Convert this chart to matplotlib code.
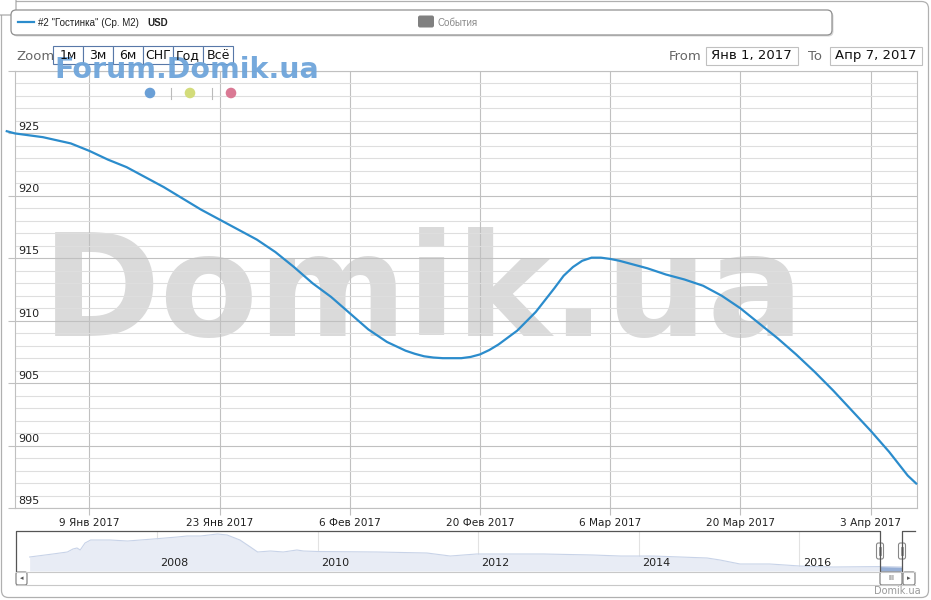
"""
    Domik.ua price chart: "Гостинка" USD per m2, Jan-Apr 2017.
"""
import numpy as np
import matplotlib
matplotlib.use('Agg')
import matplotlib.pyplot as plt
import matplotlib.transforms as mtransforms
from matplotlib.patches import FancyBboxPatch, Rectangle, Circle

W, H = 931, 600

# main series (USD per m2)
dates = ['2016-12-31', '2017-01-01', '2017-01-04', '2017-01-07', '2017-01-09',
         '2017-01-11', '2017-01-13', '2017-01-15', '2017-01-17', '2017-01-19',
         '2017-01-21', '2017-01-23', '2017-01-25', '2017-01-27', '2017-01-29',
         '2017-01-31', '2017-02-02', '2017-02-04', '2017-02-06', '2017-02-08',
         '2017-02-10', '2017-02-12', '2017-02-13', '2017-02-14', '2017-02-15',
         '2017-02-16', '2017-02-17', '2017-02-18', '2017-02-19', '2017-02-20',
         '2017-02-21', '2017-02-22', '2017-02-24', '2017-02-26', '2017-02-28',
         '2017-03-01', '2017-03-02', '2017-03-03', '2017-03-04', '2017-03-05',
         '2017-03-06', '2017-03-07', '2017-03-08', '2017-03-10', '2017-03-12',
         '2017-03-14', '2017-03-16', '2017-03-18', '2017-03-20', '2017-03-22',
         '2017-03-24', '2017-03-26', '2017-03-28', '2017-03-30', '2017-04-01',
         '2017-04-03', '2017-04-05', '2017-04-07', '2017-04-08']
prices = [925.2, 925.0, 924.7, 924.2, 923.6,
          922.9, 922.3, 921.5, 920.7, 919.8,
          918.9, 918.1, 917.3, 916.5, 915.5,
          914.3, 913.0, 911.9, 910.6, 909.3,
          908.3, 907.6, 907.35, 907.15, 907.05,
          907.0, 907.0, 907.0, 907.1, 907.3,
          907.65, 908.1, 909.2, 910.7, 912.6,
          913.6, 914.3, 914.8, 915.05, 915.05,
          914.95, 914.8, 914.6, 914.2, 913.7,
          913.3, 912.8, 912.0, 911.0, 909.8,
          908.6, 907.3, 905.9, 904.4, 902.8,
          901.2, 899.5, 897.6, 896.9]

tick_dates = ['2017-01-09', '2017-01-23', '2017-02-06', '2017-02-20',
              '2017-03-06', '2017-03-20', '2017-04-03']
tick_labels = ['9 Янв 2017', '23 Янв 2017', '6 Фев 2017', '20 Фев 2017',
               '6 Мар 2017', '20 Мар 2017', '3 Апр 2017']

# navigator history (decimal year, USD per m2)
nav_years = [2006.41, 2006.70, 2006.88, 2006.95, 2007.00, 2007.04, 2007.10,
             2007.17, 2007.41, 2007.63, 2007.95, 2008.25, 2008.37, 2008.54,
             2008.75, 2008.87, 2009.03, 2009.16, 2009.25, 2009.41, 2009.57,
             2009.74, 2009.82, 2010.00, 2010.74, 2011.36, 2011.65, 2011.98,
             2012.81, 2013.43, 2013.77, 2014.18, 2014.85, 2015.01, 2015.26,
             2015.63, 2016.01, 2016.42, 2017.00, 2017.28]
nav_values = [1355, 1492, 1583, 1719, 1765, 1674, 1992,
              2129, 2129, 2083, 2174, 2265, 2311, 2311,
              2402, 2356, 2129, 1810, 1583, 1628, 1583,
              1674, 1628, 1605, 1583, 1537, 1400, 1492,
              1492, 1446, 1400, 1400, 1310, 1219, 1037,
              1037, 945, 900, 920, 900]
nav_ticks = [2008, 2010, 2012, 2014, 2016]

zoom_buttons = ['1м', '3м', '6м', 'СНГ', 'Год', 'Всё']

LINE = '#2b8ccc'
GRID = '#c0c0c0'
MINOR = '#dedede'


def px_rect(x0, y0, x1, y1):
    return [x0 / W, 1 - y1 / H, (x1 - x0) / W, (y1 - y0) / H]


fig = plt.figure(figsize=(W / 100, H / 100), dpi=100)

# background layer in pixel coordinates
bg = fig.add_axes([0, 0, 1, 1], zorder=0)
bg.set_xlim(0, W)
bg.set_ylim(H, 0)
bg.axis('off')

bg.add_patch(FancyBboxPatch((1.5, 1.5), W - 4, H - 4, boxstyle='round,pad=0,rounding_size=7',
                            fc='white', ec='#b0b0b0', lw=0.9))
bg.add_patch(FancyBboxPatch((-6, -6), 22, 21, boxstyle='round,pad=0,rounding_size=4',
                            fc='white', ec='#a0a0a0', lw=0.8))

# legend box with shadow
bg.add_patch(FancyBboxPatch((12.5, 11.5), 821, 25, boxstyle='round,pad=0,rounding_size=5',
                            fc='#d8d8d8', ec='none'))
bg.add_patch(FancyBboxPatch((11, 10), 821, 25, boxstyle='round,pad=0,rounding_size=5',
                            fc='white', ec='#909090', lw=0.9))
bg.plot([18, 34], [22, 22], color=LINE, lw=1.6)
bg.text(38, 22.5, '#2 "Гостинка" (Ср. М2)', fontsize=7, family='Liberation Sans',
        va='center', ha='left', color='#222')
bg.text(147, 22.5, 'USD', fontsize=7, family='Liberation Sans', weight='bold',
        va='center', ha='left', color='#222')
bg.add_patch(FancyBboxPatch((418, 15.5), 16, 12, boxstyle='round,pad=0,rounding_size=2',
                            fc='#808080', ec='none'))
bg.text(438, 22.5, 'События', fontsize=7, family='Liberation Sans',
        va='center', ha='left', color='#888')

# range selector
bg.text(16, 56, 'Zoom', fontsize=9.5, color='#666', va='center', ha='left')
bx = 53
for lab in zoom_buttons:
    bg.add_patch(Rectangle((bx, 46), 30, 18, fc='white', ec='#5878a8', lw=0.8))
    bx += 30

bg.text(669, 56, 'From', fontsize=9.5, color='#666', va='center', ha='left')
bg.add_patch(Rectangle((705.5, 46.5), 92, 18, fc='white', ec='#c0c0c0', lw=0.8))
bg.text(751.5, 56, 'Янв 1, 2017', fontsize=9.5, color='#111', ha='center', va='center')
bg.text(808, 56, 'To', fontsize=9.5, color='#666', va='center', ha='left')
bg.add_patch(Rectangle((829.5, 46.5), 92, 18, fc='white', ec='#c0c0c0', lw=0.8))
bg.text(875.5, 56, 'Апр 7, 2017', fontsize=9.5, color='#111', ha='center', va='center')

# main plot
ax = fig.add_axes(px_rect(15, 71, 917, 508), zorder=1)
x = np.array(dates, dtype='datetime64[D]')
ax.plot(x, prices, color=LINE, lw=1.6, zorder=3, clip_on=False, solid_capstyle='butt')
ax.set_xlim(np.datetime64('2017-01-01'), np.datetime64('2017-04-08'))
ax.set_ylim(895, 930)

ax.set_xticks(np.array(tick_dates, dtype='datetime64[D]'))
ax.set_xticklabels(tick_labels, fontsize=7.6, color='#222')
ax.set_yticks(np.arange(895, 931, 5))
ax.set_yticks(np.arange(895, 931, 1), minor=True)
ax.set_yticklabels([])
ax.tick_params(axis='x', length=5, width=0.8, color=GRID, pad=2)
ax.tick_params(axis='y', which='major', length=5, width=0.8, color=GRID)
ax.tick_params(axis='y', which='minor', length=0)
ax.set_axisbelow(True)
ax.grid(axis='x', color=GRID, lw=0.8)
ax.grid(axis='y', which='major', color=GRID, lw=0.8)
ax.grid(axis='y', which='minor', color=MINOR, lw=0.8)
for sp in ax.spines.values():
    sp.set_color(GRID)
    sp.set_linewidth(0.8)

trans = mtransforms.blended_transform_factory(ax.transAxes, ax.transData)
for v in range(895, 930, 5):
    ax.text(0.004, v + 0.15, str(v), transform=trans, fontsize=8, color='#222',
            ha='left', va='bottom')

ax.text(0.03, 911.9, 'Domik.ua', transform=trans, fontsize=103, weight='bold',
        color='#dadada', ha='left', va='center', zorder=0.2)

# navigator
nav = fig.add_axes(px_rect(16, 531, 915, 571), zorder=1)
nav.set_xlim(2006.24, 2017.44)
nav.set_ylim(718, 2538)
nav.fill_between(nav_years, nav_values, 718, color='#e8ecf5', lw=0)
nav.plot(nav_years, nav_values, color='#c8d3e8', lw=0.8)
sel = [i for i, yv in enumerate(nav_years) if yv >= 2017.0]
nav.fill_between([nav_years[i] for i in sel], [nav_values[i] for i in sel], 718,
                 color='#97afd6', lw=0)
for yr in nav_ticks:
    nav.axvline(yr, color='#e2e2e2', lw=0.8, zorder=0)
    nav.text(yr + 0.04, 860, str(yr), fontsize=8, color='#222', ha='left', va='bottom')
nav.set_xticks([])
nav.set_yticks([])
for sp in nav.spines.values():
    sp.set_visible(False)

# navigator outline, handles, scrollbar, watermark, buttons text
top = fig.add_axes([0, 0, 1, 1], zorder=2)
top.set_xlim(0, W)
top.set_ylim(H, 0)
top.axis('off')
top.plot([16, 16, 880, 880], [571, 531, 531, 571], color='#555', lw=0.9)
top.plot([902, 902, 915], [571, 531, 531], color='#555', lw=0.9)
for hx in (880, 902):
    top.add_patch(FancyBboxPatch((hx - 3.5, 543), 7, 16, boxstyle='round,pad=0,rounding_size=2',
                                 fc='white', ec='#888', lw=0.8))
    top.plot([hx - 1, hx - 1], [547, 555], color='#888', lw=0.6)
    top.plot([hx + 1, hx + 1], [547, 555], color='#888', lw=0.6)

top.plot([16, 915], [571.5, 571.5], color='#c8c8c8', lw=0.8)
top.plot([16, 915], [585, 585], color='#c8c8c8', lw=0.8)
top.add_patch(FancyBboxPatch((16, 572), 11, 13, boxstyle='round,pad=0,rounding_size=2',
                             fc='white', ec='#777', lw=0.8))
top.text(21.5, 578.5, '◂', fontsize=5, color='#555', ha='center', va='center')
top.add_patch(FancyBboxPatch((880, 572), 22, 13, boxstyle='round,pad=0,rounding_size=2',
                             fc='white', ec='#777', lw=0.8))
top.text(891, 578.5, 'III', fontsize=5, color='#555', ha='center', va='center')
top.add_patch(FancyBboxPatch((903, 572), 12, 13, boxstyle='round,pad=0,rounding_size=2',
                             fc='white', ec='#777', lw=0.8))
top.text(909, 578.5, '▸', fontsize=5, color='#555', ha='center', va='center')
top.text(921, 591, 'Domik.ua', fontsize=7, color='#999', ha='right', va='center')

# forum watermark (sits over the lower part of the zoom buttons, as in the original)
top.text(54, 70, 'Forum.Domik.ua', fontsize=20.5, weight='bold', color='#6fa5da',
         alpha=0.95, ha='left', va='center')
bx = 53
for lab in zoom_buttons:
    top.text(bx + 15, 55.5, lab, fontsize=9, color='#111', ha='center', va='center')
    bx += 30
for cx, col in ((150, '#6a9fd6'), (190, '#d3dc7a'), (231, '#da7994')):
    top.add_patch(Circle((cx, 93), 5.3, fc=col, ec='none'))
for sx in (170.5, 211.5):
    top.plot([sx, sx], [88, 99], color='#bbb', lw=0.8)

fig.savefig('out.png', dpi=100)
